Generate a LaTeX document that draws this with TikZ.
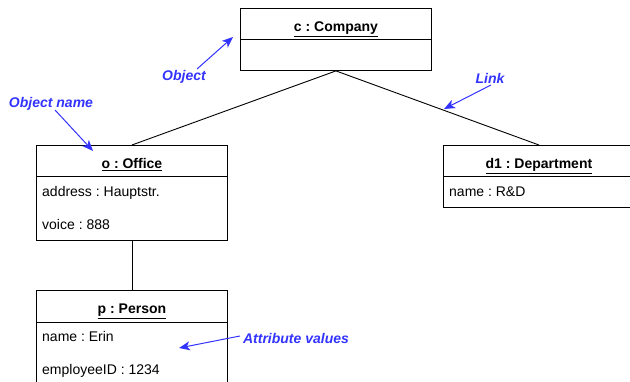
\documentclass[tikz,border=0pt]{standalone}
\usepackage{fontspec}
\setmainfont{Liberation Sans}
\usetikzlibrary{arrows.meta}

\definecolor{noteblue}{RGB}{51,51,255}

\tikzset{
  objhead/.style={draw, line width=0.9pt, anchor=north west, minimum width=191pt,
    minimum height=31pt, inner sep=0pt, text height=15pt, text depth=0pt,
    font=\fontsize{14}{16}\selectfont\bfseries},
  objbody/.style={draw, line width=0.9pt, anchor=north west, minimum width=191pt,
    inner sep=0pt},
  attr/.style={anchor=base west, inner sep=0pt, font=\fontsize{14}{16}\selectfont},
  link/.style={line width=0.9pt},
  note/.style={text=noteblue, inner sep=0pt, font=\fontsize{14}{16}\selectfont\bfseries\itshape},
  notearrow/.style={draw=noteblue, line width=1pt, -{Stealth[length=11pt, width=9pt, inset=3pt]}}
}

\begin{document}
\frenchspacing
\begin{tikzpicture}[x=1pt, y=-1pt]
  \useasboundingbox (0,0) rectangle (630,382);
  \clip (0,0) rectangle (630,382);

  % Objekte
  \node[objhead] (comphead) at (240,8) {\underline{c : Company}};
  \node[objbody, minimum height=31pt] (compbody) at (240,39) {};

  \node[objhead] (offhead) at (36,145) {\underline{o : Office}};
  \node[objbody, minimum height=64pt] (offbody) at (36,176) {};
  \node[attr] (offaddr) at (42,197) {address : Hauptstr.};
  \node[attr] (offvoice) at (42,230) {voice : 888};

  \node[objhead] (dephead) at (443,145) {\underline{d1 : Department}};
  \node[objbody, minimum height=31pt] (depbody) at (443,176) {};
  \node[attr] (depname) at (449,197) {name : R\&D};

  \node[objhead, minimum height=32pt] (perhead) at (36,290) {\underline{p : Person}};
  \node[objbody, minimum height=66pt] (perbody) at (36,322) {};
  \node[attr] (pername) at (42,342) {name : Erin};
  \node[attr] (perid) at (42,374) {employeeID : 1234};

  % Links
  \draw[link] (compbody.south) -- (offhead.north);
  \draw[link] (compbody.south) -- (dephead.north);
  \draw[link] (offbody.south) -- (perhead.north);

  % Anmerkungen
  \node[note] (objlbl) at (184,77) {Object};
  \coordinate (objtail) at (197,69);
  \coordinate (objtip) at (233,37);
  \draw[notearrow] (objtail) -- (objtip);

  \node[note] (namelbl) at (51,104) {Object name};
  \coordinate (nametail) at (55,110);
  \coordinate (nametip) at (93,151);
  \draw[notearrow] (nametail) -- (nametip);

  \node[note] (linklbl) at (490,78) {Link};
  \coordinate (linktail) at (491,85);
  \coordinate (linktip) at (444,109);
  \draw[notearrow] (linktail) -- (linktip);

  \node[note] (attrlbl) at (296,338) {Attribute values};
  \coordinate (attrtail) at (240,336);
  \coordinate (attrtip) at (179,348);
  \draw[notearrow] (attrtail) -- (attrtip);
\end{tikzpicture}
\end{document}
